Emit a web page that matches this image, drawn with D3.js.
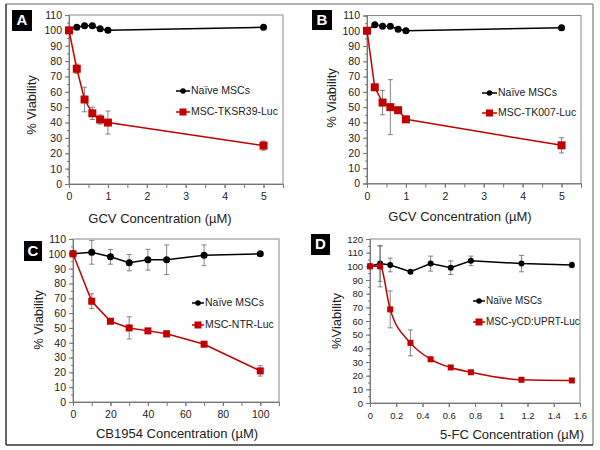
<!DOCTYPE html>
<html><head><meta charset="utf-8">
<script src="https://cdn.jsdelivr.net/npm/d3@7"></script>
<style>
body{margin:0;background:#fff;}
svg{display:block;font-family:"Liberation Sans",Arial,sans-serif;}
</style></head>
<body><svg id="c" width="600" height="450"></svg>
<script>
// ---- data ----
const xA = [0, 0.2, 0.4, 0.6, 0.8, 1, 5];
const naiveA = [100, 102, 103, 103, 101, 100, 102];
const naiveAErr = [0, 0, 0, 0, 0, 0, 0];
const tkA = [100, 75, 55, 46, 42, 40, 25];
const tkAErr = [1, 3, 8, 4, 3, 7.5, 3];

const xB = [0, 0.2, 0.4, 0.6, 0.8, 1, 5];
const naiveB = [100, 104, 103, 103, 101, 100, 102];
const naiveBErr = [0, 0, 0, 0, 0, 0, 0];
const tkB = [100, 63, 53, 50, 48, 42, 25];
const tkBErr = [1, 1, 8, 18, 1, 1, 5];

const xC = [0, 10, 20, 30, 40, 50, 70, 100];
const naiveC = [100, 101, 98, 94, 96, 96, 99, 100];
const naiveCErr = [0, 8, 5, 5.5, 7, 10, 7, 0.5];
const ntrC = [100, 68, 54.5, 50, 48, 46, 39, 21];
const ntrCErr = [0.5, 5, 1, 7.5, 1, 2, 1, 3.5];

const xD = [0, 0.077, 0.154, 0.308, 0.462, 0.615, 0.769, 1.154, 1.538];
const naiveD = [100, 102, 101, 96, 102, 99, 104, 102, 101];
const naiveDErr = [0, 13, 5, 1, 5.5, 5, 3.5, 6, 2];
const ycdD = [100, 100, 68.5, 44, 32, 26, 22.5, 17, 16.5];
const ycdDErr = [0, 15, 13.5, 9.5, 1, 1, 1, 1, 1];

const seriesNames = ["Naïve MSCs", "MSC-TKSR39-Luc", "MSC-TK007-Luc", "MSC-NTR-Luc", "MSC-yCD:UPRT-Luc"];
const xTitles = ["GCV Concentration (µM)", "GCV Concentration (µM)", "CB1954 Concentration (µM)", "5-FC Concentration (µM)"];
const yTitles = ["% Viability", "% Viability", "% Viability", "%Viability"];
const panelLetters = ["A", "B", "C", "D"];

const svg = d3.select("#c");
const RED = "#c00000";

// outer frame
svg.append("line").attr("x1",6).attr("y1",4).attr("x2",593).attr("y2",4).attr("stroke","#999").attr("stroke-width",1.5);
svg.append("line").attr("x1",593).attr("y1",4).attr("x2",593).attr("y2",445).attr("stroke","#999").attr("stroke-width",1.5);
svg.append("line").attr("x1",6).attr("y1",4).attr("x2",6).attr("y2",445).attr("stroke","#333").attr("stroke-width",1.5);
svg.append("line").attr("x1",6).attr("y1",445).attr("x2",593).attr("y2",445).attr("stroke","#333").attr("stroke-width",1.5);

function panel(cfg){
  const g = svg.append("g");
  const x = d3.scaleLinear().domain(cfg.xDomain).range([cfg.left, cfg.right]);
  const y = d3.scaleLinear().domain(cfg.yDomain).range([cfg.bottom, cfg.top]);
  // plot box
  g.append("rect").attr("x",cfg.left).attr("y",cfg.top).attr("width",cfg.right-cfg.left).attr("height",cfg.bottom-cfg.top)
    .attr("fill","none").attr("stroke","#8a8a8a").attr("stroke-width",1);
  // minor ticks
  const yMinor = d3.range(cfg.yDomain[0], cfg.yDomain[1]+0.001, 5);
  g.append("g").attr("transform",`translate(${cfg.left},0)`)
    .call(d3.axisLeft(y).tickValues(yMinor).tickSize(2).tickFormat(""))
    .call(a=>{a.select(".domain").remove(); a.selectAll("line").attr("stroke","#777");});
  // y axis
  const yTicks = d3.range(cfg.yDomain[0], cfg.yDomain[1]+0.001, 10);
  const ya = g.append("g").attr("transform",`translate(${cfg.left},0)`)
    .call(d3.axisLeft(y).tickValues(yTicks).tickSize(4).tickPadding(3).tickFormat(d3.format("d")));
  ya.select(".domain").attr("stroke","#777");
  ya.selectAll("line").attr("stroke","#777");
  ya.selectAll("text").attr("font-size",cfg.tickFont).attr("fill","#222").attr("font-family","Liberation Sans, Arial, sans-serif");
  // x axis
  g.append("g").attr("transform",`translate(0,${cfg.bottom})`)
    .call(d3.axisBottom(x).tickValues(cfg.xMinor).tickSize(4).tickFormat(""))
    .call(a=>{a.select(".domain").attr("stroke","#777"); a.selectAll("line").attr("stroke","#777");});
  const xa = g.append("g").attr("transform",`translate(0,${cfg.bottom})`)
    .call(d3.axisBottom(x).tickValues(cfg.xTicks).tickSize(4).tickPadding(5).tickFormat(cfg.xFormat));
  xa.select(".domain").remove();
  xa.selectAll("line").attr("stroke","#777");
  xa.selectAll("text").attr("font-size",cfg.tickFont).attr("fill","#222").attr("font-family","Liberation Sans, Arial, sans-serif");

  // titles
  g.append("text").attr("x",cfg.xt[0]).attr("y",cfg.xt[1]).attr("text-anchor","middle").attr("dominant-baseline","middle")
    .attr("font-size",13).attr("fill","#222").text(cfg.xTitle);
  g.append("text").attr("transform",`translate(${cfg.yt[0]},${cfg.yt[1]}) rotate(-90)`).attr("text-anchor","middle")
    .attr("dominant-baseline","middle").attr("font-size",13).attr("fill","#222").text(cfg.yTitle);

  // letter box
  g.append("rect").attr("x",cfg.lb[0]).attr("y",cfg.lb[1]).attr("width",cfg.lb[2]).attr("height",cfg.lb[3]).attr("fill","#000");
  g.append("text").attr("x",cfg.lb[0]+cfg.lb[2]/2).attr("y",cfg.lb[1]+cfg.lb[3]/2+1).attr("text-anchor","middle")
    .attr("dominant-baseline","middle").attr("font-size",15).attr("font-weight","bold").attr("fill","#fff").text(cfg.letter);

  // series
  cfg.series.forEach(s=>{
    const pts = s.xs.map((v,i)=>({x:v, y:s.ys[i], e:s.err[i]}));
    // error bars
    const eb = g.append("g");
    pts.filter(p=>p.e>0).forEach(p=>{
      eb.append("line").attr("x1",x(p.x)).attr("x2",x(p.x)).attr("y1",y(p.y-p.e)).attr("y2",y(p.y+p.e)).attr("stroke","#666").attr("stroke-width",0.8);
      [p.y-p.e,p.y+p.e].forEach(v=>eb.append("line").attr("x1",x(p.x)-2.5).attr("x2",x(p.x)+2.5).attr("y1",y(v)).attr("y2",y(v)).attr("stroke","#666").attr("stroke-width",0.8));
    });
    const line = d3.line().x(p=>x(p.x)).y(p=>y(p.y)).curve(s.smooth ? d3.curveMonotoneX : d3.curveLinear);
    g.append("path").datum(pts).attr("d",line).attr("fill","none").attr("stroke",s.color).attr("stroke-width",1.5);
    pts.forEach(p=>{
      if(s.shape==="circle") g.append("circle").attr("cx",x(p.x)).attr("cy",y(p.y)).attr("r",cfg.cr).attr("fill",s.color);
      else g.append("rect").attr("x",x(p.x)-cfg.sq/2).attr("y",y(p.y)-cfg.sq/2).attr("width",cfg.sq).attr("height",cfg.sq).attr("fill",s.color);
    });
  });
  // legend
  cfg.series.forEach((s,i)=>{
    const ly = cfg.leg.y[i];
    g.append("line").attr("x1",cfg.leg.x0).attr("x2",cfg.leg.x1).attr("y1",ly).attr("y2",ly).attr("stroke",s.color).attr("stroke-width",1.5);
    const mx = (cfg.leg.x0+cfg.leg.x1)/2;
    if(s.shape==="circle") g.append("circle").attr("cx",mx).attr("cy",ly).attr("r",2.8).attr("fill",s.color);
    else g.append("rect").attr("x",mx-3.5).attr("y",ly-3.5).attr("width",7).attr("height",7).attr("fill",s.color);
    g.append("text").attr("x",cfg.leg.x1+1).attr("y",ly).attr("dominant-baseline","middle").attr("font-size",cfg.legFont)
      .attr("fill","#222").text(s.name);
  });
}

const f1 = d3.format("d");
const fD = d=> d===0 ? "0" : (Math.abs(d-Math.round(d))<1e-9 ? String(Math.round(d)) : d3.format(".1f")(d));

panel({left:69,right:283,top:15,bottom:184,xDomain:[0,5.5],yDomain:[0,110],
  xTicks:[0,1,2,3,4,5],xMinor:d3.range(0,5.51,0.5),xFormat:f1,tickFont:10.5,
  xTitle:xTitles[0],yTitle:yTitles[0],xt:[160,220],yt:[33,105],lb:[12,10,20,21],letter:panelLetters[0],
  cr:3.5,sq:8,legFont:10.5,leg:{x0:176,x1:190,y:[91,112]},
  series:[{xs:xA,ys:naiveA,err:naiveAErr,color:"#000",shape:"circle",name:seriesNames[0]},
          {xs:xA,ys:tkA,err:tkAErr,color:RED,shape:"square",name:seriesNames[1]}]});

panel({left:367,right:581,top:15.5,bottom:183.5,xDomain:[0,5.5],yDomain:[0,110],
  xTicks:[0,1,2,3,4,5],xMinor:d3.range(0,5.51,0.5),xFormat:f1,tickFont:10.5,
  xTitle:xTitles[1],yTitle:yTitles[1],xt:[460,218],yt:[333,98],lb:[312,10,20,20],letter:panelLetters[1],
  cr:3.5,sq:8,legFont:10.5,leg:{x0:482,x1:497,y:[93,113]},
  series:[{xs:xB,ys:naiveB,err:naiveBErr,color:"#000",shape:"circle",name:seriesNames[0]},
          {xs:xB,ys:tkB,err:tkBErr,color:RED,shape:"square",name:seriesNames[2]}]});

panel({left:73,right:279,top:239,bottom:402,xDomain:[0,110],yDomain:[0,110],
  xTicks:[0,20,40,60,80,100],xMinor:d3.range(0,110.1,10),xFormat:f1,tickFont:10.5,
  xTitle:xTitles[2],yTitle:yTitles[2],xt:[177,435],yt:[40,320],lb:[24,241,18,20],letter:panelLetters[2],
  cr:3.5,sq:7,legFont:10.5,leg:{x0:192,x1:204,y:[303,325]},
  series:[{xs:xC,ys:naiveC,err:naiveCErr,color:"#000",shape:"circle",name:seriesNames[0]},
          {xs:xC,ys:ntrC,err:ntrCErr,color:RED,shape:"square",name:seriesNames[3]}]});

panel({left:370,right:580,top:239,bottom:403,xDomain:[0,1.6],yDomain:[0,120],
  xTicks:d3.range(0,1.61,0.2),xMinor:d3.range(0,1.61,0.2),xFormat:fD,tickFont:9.5,
  xTitle:xTitles[3],yTitle:yTitles[3],xt:[512,436],yt:[338,321],lb:[311,234,19,21],letter:panelLetters[3],
  cr:3,sq:6,legFont:10,leg:{x0:473,x1:485,y:[301,322]},
  series:[{xs:xD,ys:naiveD,err:naiveDErr,color:"#000",shape:"circle",name:seriesNames[0]},
          {xs:xD,ys:ycdD,err:ycdDErr,color:RED,shape:"square",name:seriesNames[4],smooth:true}]});
</script></body></html>
